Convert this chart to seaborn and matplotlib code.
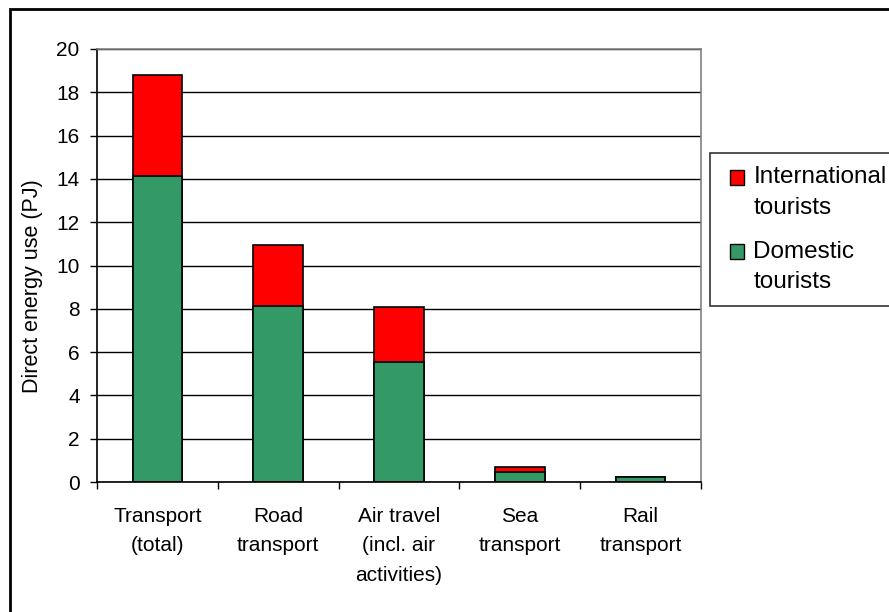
import numpy as np
import pandas as pd
import matplotlib
matplotlib.use("Agg")
import matplotlib.pyplot as plt
import seaborn as sns
from matplotlib.patches import Patch, Rectangle
from matplotlib.legend_handler import HandlerPatch

# data (PJ)
categories = ["Transport\n(total)", "Road\ntransport", "Air travel\n(incl. air\nactivities)",
              "Sea\ntransport", "Rail\ntransport"]
domestic = [14.15, 8.15, 5.55, 0.48, 0.22]
international = [4.67, 2.78, 2.52, 0.20, 0.01]

RED = "#FF0000"
GREEN = "#339966"

df = pd.DataFrame({"category": categories, "domestic": domestic, "international": international})
df["total"] = df["domestic"] + df["international"]

sns.set_style("white")
plt.rcParams["font.family"] = ["Liberation Sans", "DejaVu Sans"]
for key in ["text.color", "axes.labelcolor", "xtick.color", "ytick.color"]:
    plt.rcParams[key] = "black"

fig = plt.figure(figsize=(8.89, 6.12), dpi=100)
ax = fig.add_axes([97 / 889, 1 - 482 / 612, (701 - 97) / 889, (482 - 49) / 612])

ax.set_axisbelow(True)
ax.yaxis.grid(True, color="black", lw=1.0)

# stacked bars: total (red) underneath, domestic (green) on top
sns.barplot(data=df, x="category", y="total", color=RED, saturation=1, width=0.41,
            edgecolor="black", linewidth=1.2, ax=ax)
sns.barplot(data=df, x="category", y="domestic", color=GREEN, saturation=1, width=0.41,
            edgecolor="black", linewidth=1.2, ax=ax)

ax.set_xlim(-0.5, len(categories) - 0.5)
ax.set_ylim(0, 20)
ax.set_yticks(np.arange(0, 21, 2))
ax.tick_params(axis="y", length=5, width=1, labelsize=15, pad=7.5, direction="out", left=True)
ax.set_xticks(range(len(categories)))
ax.set_xticklabels(categories, linespacing=1.69)
ax.tick_params(axis="x", which="major", length=0, labelsize=15, pad=18)
ax.set_xticks(np.arange(-0.5, len(categories), 1), minor=True)
ax.tick_params(axis="x", which="minor", length=5, width=1, color="black", direction="out", bottom=True)

ax.set_xlabel("")
ax.set_ylabel("Direct energy use (PJ)", fontsize=15.5)
ax.yaxis.set_label_coords(-0.09, 0.453)

for side in ["top", "right"]:
    ax.spines[side].set_color("#808080")
    ax.spines[side].set_linewidth(1.2)
for side in ["left", "bottom"]:
    ax.spines[side].set_color("black")
    ax.spines[side].set_linewidth(1.2)


# legend markers sit next to the first line of each two-line label
def top_patch(legend, orig_handle, xdescent, ydescent, width, height, fontsize):
    return Rectangle((-xdescent + 5, -ydescent + 0.62 * fontsize), width, height)


handles = [Patch(facecolor=RED, edgecolor="black", lw=1),
           Patch(facecolor=GREEN, edgecolor="black", lw=1)]
leg = fig.legend(handles, ["International\ntourists", "Domestic\ntourists"],
                 loc="upper left", bbox_to_anchor=(710 / 889, 1 - 153 / 612),
                 fontsize=17.5, frameon=True, fancybox=False, handlelength=0.58,
                 handleheight=0.58, handletextpad=0.66, labelspacing=0.9,
                 borderpad=0.54, borderaxespad=0,
                 handler_map={Patch: HandlerPatch(patch_func=top_patch)})
leg.get_frame().set_edgecolor("black")
leg.get_frame().set_linewidth(1.2)
for t in leg.get_texts():
    t.set_linespacing(1.5)

# outer chart border
fig.add_artist(Rectangle((10 / 889, -0.1), 1.2, 1 - 9 / 612 + 0.1, transform=fig.transFigure,
                         fill=False, edgecolor="black", lw=2))

fig.savefig("out.png", dpi=100)
